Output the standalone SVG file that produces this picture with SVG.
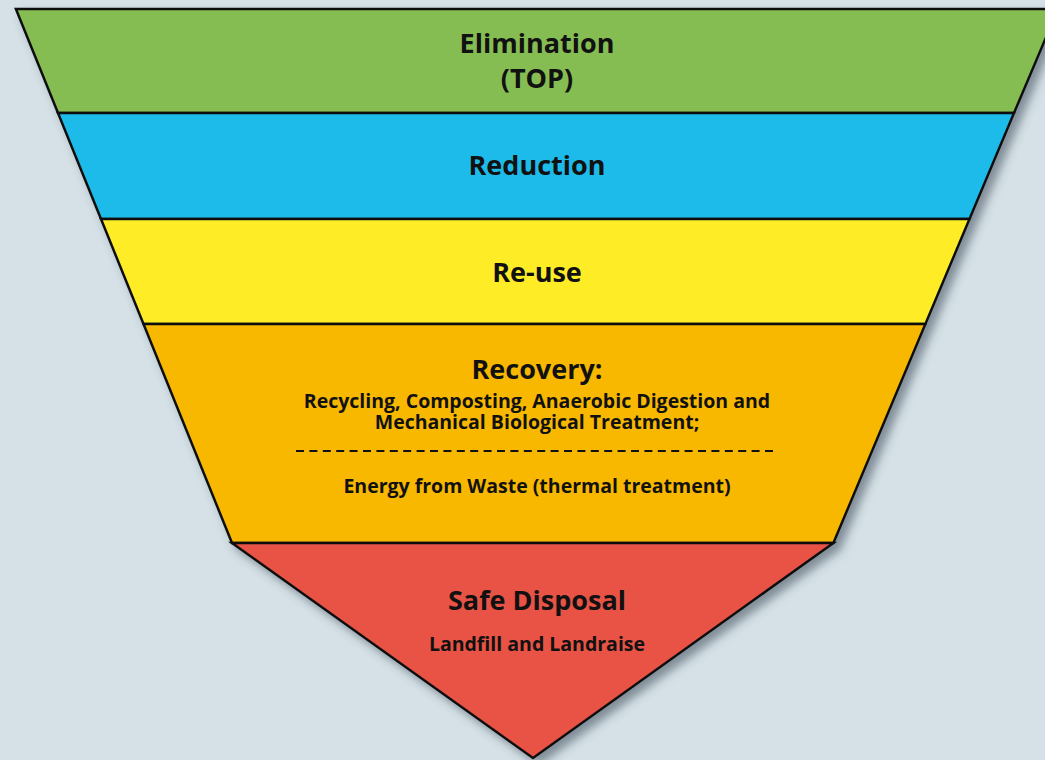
<svg xmlns="http://www.w3.org/2000/svg" width="1045" height="760" viewBox="0 0 1045 760">
<defs>
<filter id="sh" x="-10%" y="-10%" width="130%" height="130%">
<feDropShadow dx="6" dy="6" stdDeviation="5" flood-color="#3a4a55" flood-opacity="0.55"/>
</filter>
<style>
.band{stroke:#111;stroke-width:2.5;stroke-linejoin:miter}
.t{font-family:"Open Sans","Liberation Sans",sans-serif;font-weight:bold;fill:#111;text-anchor:middle}
.h{font-size:27px}
.s{font-size:19.5px}
</style>
</defs>
<rect width="1045" height="760" fill="#d5e1e6"/>
<g filter="url(#sh)">
<g id="elimination">
<polygon class="band" fill="#86bd52" points="15.9,9 1058,9 1014,113 58,113"/>
</g>
<g id="reduction">
<polygon class="band" fill="#1fbbea" points="58,113 1014,113 969.5,219 101,219"/>
</g>
<g id="reuse">
<polygon class="band" fill="#feec26" points="101,219 969.5,219 925.4,324 143.5,324"/>
</g>
<g id="recovery">
<polygon class="band" fill="#f9b800" points="143.5,324 925.4,324 833.4,543 232,543"/>
</g>
<g id="disposal">
<polygon class="band" fill="#e85245" points="232,543 833.4,543 533,758"/>
</g>
</g>
<g id="labels">
<text class="t h" x="537" y="53"><tspan x="537" y="53">Elimination</tspan><tspan x="537" y="88">(TOP)</tspan></text>
<text class="t h" x="537" y="175">Reduction</text>
<text class="t h" x="537" y="282">Re-use</text>
<text class="t h" x="537" y="379">Recovery:</text>
<text class="t s" x="537" y="408"><tspan x="537" y="408">Recycling, Composting, Anaerobic Digestion and</tspan><tspan x="537" y="429">Mechanical Biological Treatment;</tspan></text>
<line x1="296" y1="451" x2="778" y2="451" stroke="#111" stroke-width="2" stroke-dasharray="8,5.4"/>
<text class="t s" x="537" y="493">Energy from Waste (thermal treatment)</text>
<text class="t h" x="537" y="610">Safe Disposal</text>
<text class="t s" x="537" y="651">Landfill and Landraise</text>
</g>
</svg>
